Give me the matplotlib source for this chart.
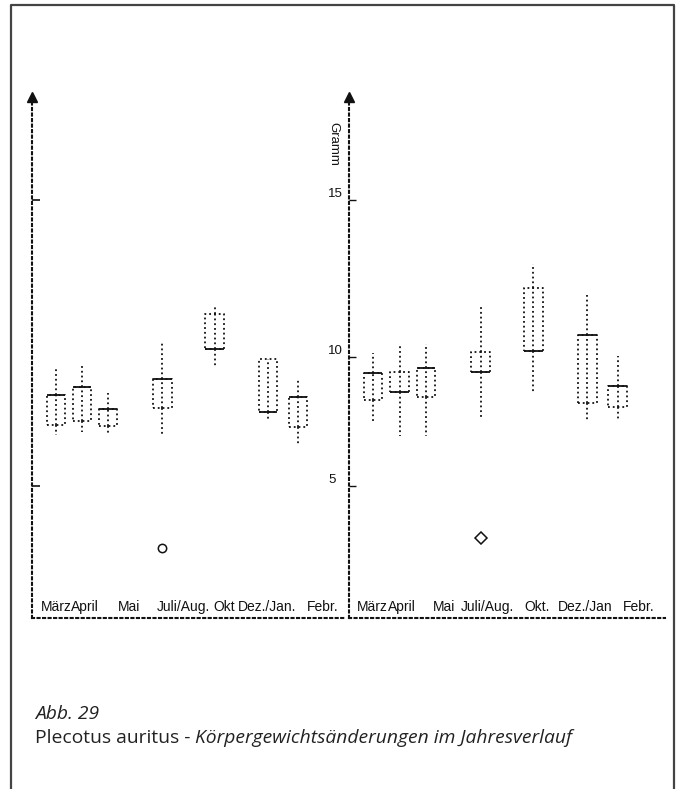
import numpy as np
import matplotlib
matplotlib.use("Agg")
import matplotlib.pyplot as plt
from matplotlib.lines import Line2D

# Month groups (two populations / panels)
months_left = ["März", "April", "Mai", "Juli/Aug.", "Okt", "Dez./Jan.", "Febr."]
months_right = ["März", "April", "Mai", "Juli/Aug.", "Okt.", "Dez./Jan", "Febr."]

# Body weight (g): lower whisker, Q1, median, Q3, upper whisker, outliers
left_whislo = [6.98, 7.09, 7.02, 6.98, 9.65, 7.56, 6.63]
left_q1 = [7.36, 7.52, 7.33, 8.02, 10.25, 7.87, 7.29]
left_med = [8.53, 8.84, 7.98, 9.15, 10.25, 7.87, 8.45]
left_q3 = [8.53, 8.84, 7.98, 9.15, 11.37, 9.92, 8.45]
left_whishi = [9.57, 9.69, 8.60, 10.45, 11.66, 9.92, 9.15]
left_outliers = [[], [], [], [2.60], [], [], []]

right_whislo = [7.44, 6.94, 6.94, 7.67, 8.60, 7.48, 7.56]
right_q1 = [8.33, 8.64, 8.45, 9.42, 10.19, 8.22, 8.06]
right_med = [9.38, 8.64, 9.57, 9.42, 10.19, 10.70, 8.88]
right_q3 = [9.38, 9.42, 9.57, 10.16, 12.20, 10.70, 8.88]
right_whishi = [10.13, 10.41, 10.41, 11.66, 12.96, 11.97, 10.03]
right_outliers = [[], [], [], [2.98], [], [], []]

y_ticks = [5, 10, 15]
y_ticklabels = ["5", "10", "15"]

# layout positions on the month axis
box_pos = [0.92, 1.92, 2.92, 5.0, 7.0, 9.05, 10.2]
label_pos_left = [0.92, 2.03, 3.72, 5.79, 7.36, 9.01, 11.16]
label_pos_right = [0.87, 2.01, 3.61, 5.24, 7.14, 8.96, 11.01]

# The printed gram axis is not evenly spaced; piecewise-linear scale
G_NODES = [-5.0, 5.0, 10.0, 15.0, 25.0]
P_NODES = [-258.0, 0.0, 129.0, 286.0, 600.0]


def fwd(y):
    return np.interp(y, G_NODES, P_NODES)


def inv(p):
    return np.interp(p, P_NODES, G_NODES)


W, H = 680, 789
fig = plt.figure(figsize=(W / 100, H / 100), dpi=100)
fig.patch.set_facecolor("white")

INK = "#111111"
LW = 1.3
LABEL_FONT = "Liberation Sans"


def fx(px):
    return px / W


def fy(py):
    return 1 - py / H


ax_l = fig.add_axes([fx(32), fy(618), (345 - 32) / W, (618 - 97) / H])
ax_r = fig.add_axes([fx(349), fy(618), (665 - 349) / W, (618 - 97) / H])


def panel(ax, whislo, q1, med, q3, whishi, outl, labels, lpos, marker, show_labels):
    ax.set_yscale("function", functions=(fwd, inv))
    ax.set_xlim(0, 12)
    ax.set_ylim(-0.12, 18.3)
    stats = []
    for a, b, c, d, e, f in zip(whislo, q1, med, q3, whishi, outl):
        stats.append(dict(whislo=a, q1=b, med=c, q3=d, whishi=e,
                          fliers=np.array(f, dtype=float)))
    ax.bxp(stats, positions=box_pos, widths=0.7, showcaps=False,
           boxprops=dict(ls=":", lw=LW, color=INK),
           whiskerprops=dict(ls=":", lw=LW, color=INK),
           medianprops=dict(ls="-", lw=1.3, color=INK),
           flierprops=dict(marker=marker, mfc="none", mec=INK, ms=6, mew=1.1),
           manage_ticks=False)
    # centre line running through each box
    ax.vlines(box_pos, q1, q3, colors=INK, linestyles=":", lw=LW)

    for s in ("top", "right"):
        ax.spines[s].set_visible(False)
    for s in ("left", "bottom"):
        ax.spines[s].set_linestyle(":")
        ax.spines[s].set_linewidth(1.5)
        ax.spines[s].set_color(INK)
    ax.plot([0], [1], marker="^", ms=7, color=INK, transform=ax.transAxes,
            clip_on=False)
    ax.set_xticks([])
    if show_labels:
        ax.set_yticks(y_ticks)
        ax.set_yticklabels(y_ticklabels)
        ax.tick_params(axis="y", direction="in", length=5, width=1.0,
                       color=INK, pad=15, labelsize=9.5, labelcolor=INK)
        for t in ax.get_yticklabels():
            t.set_horizontalalignment("left")
            t.set_verticalalignment("bottom")
            t.set_family(LABEL_FONT)
    else:
        ax.set_yticks([5, 15])
        ax.set_yticklabels([])
        ax.tick_params(axis="y", direction="in", length=6, width=1.2,
                       color=INK)
    ax.yaxis.set_minor_locator(matplotlib.ticker.NullLocator())
    tr = matplotlib.transforms.blended_transform_factory(ax.transData, ax.transAxes)
    for lab, xp in zip(labels, lpos):
        ax.text(xp, 0.021, lab, transform=tr, ha="center", va="center",
                fontsize=10, color=INK, family=LABEL_FONT)
    ax.set_facecolor("none")


panel(ax_l, left_whislo, left_q1, left_med, left_q3, left_whishi,
      left_outliers, months_left, label_pos_left, "o", False)
panel(ax_r, right_whislo, right_q1, right_med, right_q3, right_whishi,
      right_outliers, months_right, label_pos_right, "D", True)

ax_r.text(-0.05, 16.8, "Gramm", rotation=-90, ha="center",
          va="center", fontsize=9.5, color=INK, family=LABEL_FONT,
          transform=matplotlib.transforms.blended_transform_factory(
              ax_r.transAxes, ax_r.transData))

# surrounding frame, open at the bottom
frame = Line2D([fx(11), fx(11), fx(674), fx(674)],
               [0, fy(5), fy(5), 0], transform=fig.transFigure,
               color="#444444", lw=1.6)
fig.add_artist(frame)

# caption
cap_font = "Open Sans"
CAP = 13.9
fig.text(fx(35), fy(719), "Abb. 29", style="italic", fontsize=CAP,
         family=cap_font, color="#222222", va="baseline")
t1 = fig.text(fx(35), fy(743), "Plecotus auritus - ", fontsize=CAP,
              family=cap_font, color="#222222", va="baseline")
fig.canvas.draw()
bb = t1.get_window_extent(renderer=fig.canvas.get_renderer())
fig.text(bb.x1 / W, fy(743), "Körpergewichtsänderungen im Jahresverlauf",
         style="italic", fontsize=CAP, family=cap_font, color="#222222",
         va="baseline")

fig.savefig("out.png", dpi=100, facecolor="white")
